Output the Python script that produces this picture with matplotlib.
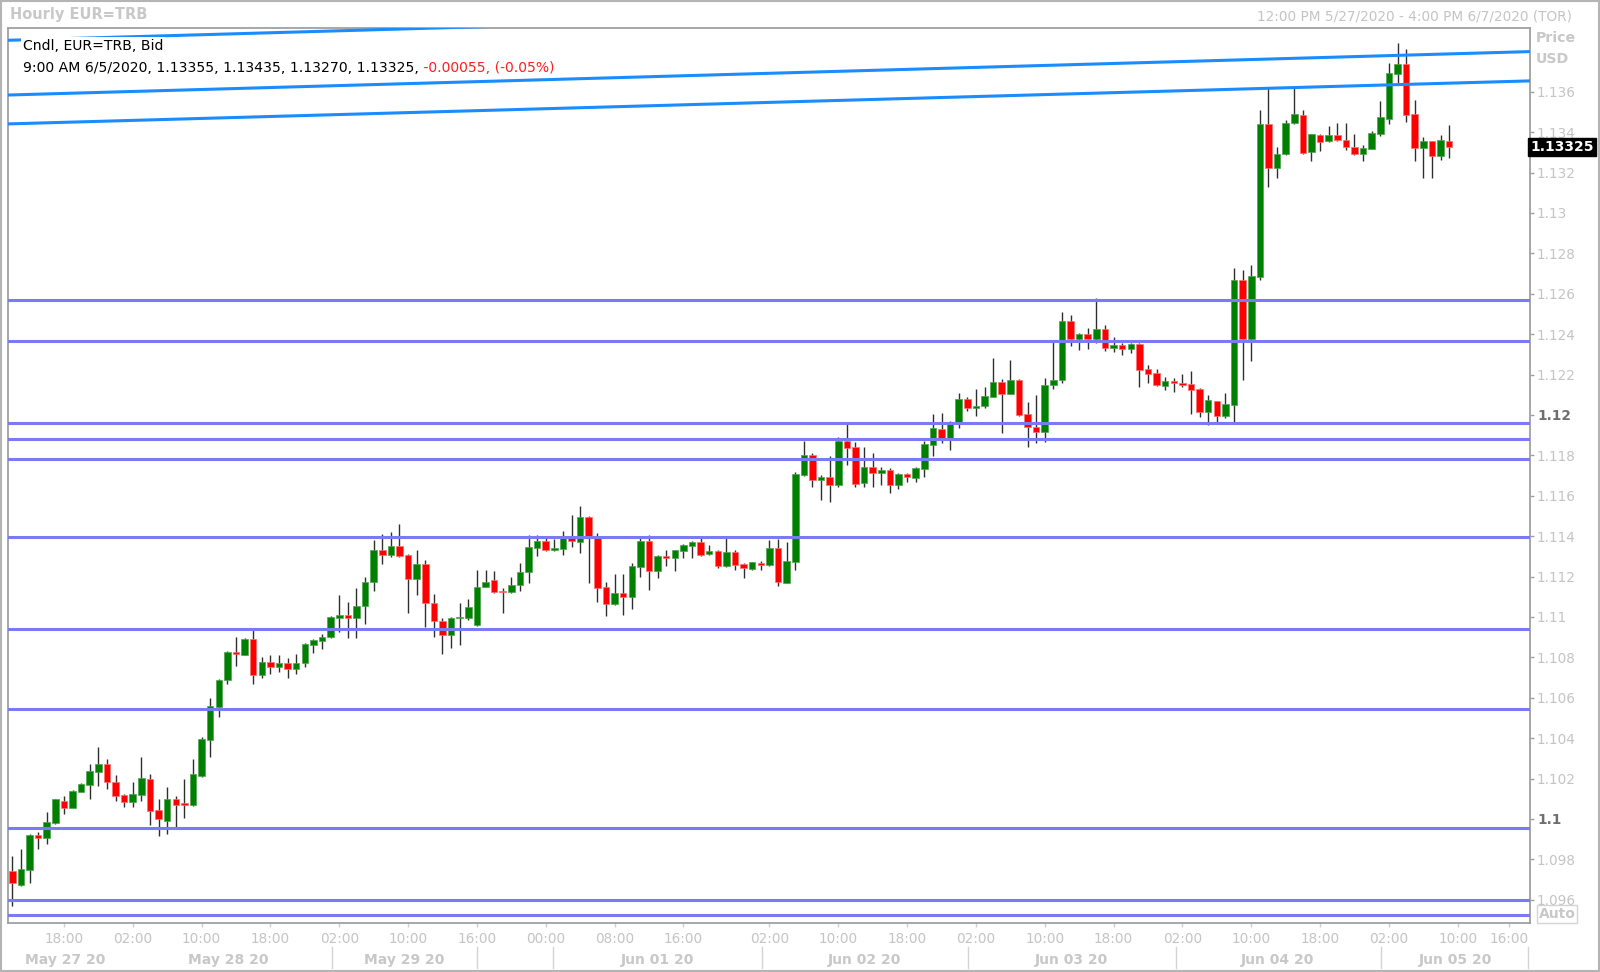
import numpy as np
import matplotlib.pyplot as plt
from matplotlib.transforms import blended_transform_factory
from matplotlib.patches import Rectangle

# hourly EUR=TRB candles, 12:00 May 27 -> 09:00 Jun 05 (one slot per bar)
opens = [1.09743, 1.09675, 1.09748, 1.09921, 1.09905, 1.09979, 1.10091, 1.10055, 1.10136, 1.10169,
         1.10235, 1.10273, 1.10185, 1.10119, 1.10083, 1.10121, 1.10198, 1.10045, 1.09992, 1.10101,
         1.10078, 1.10070, 1.10215, 1.10393, 1.10555, 1.10687, 1.10827, 1.10814, 1.10891, 1.10715,
         1.10777, 1.10750, 1.10770, 1.10745, 1.10770, 1.10861, 1.10883, 1.10899, 1.10997, 1.11010,
         1.10997, 1.11055, 1.11172, 1.11332, 1.11307, 1.11353, 1.11307, 1.11190, 1.11261, 1.11071,
         1.10982, 1.10911, 1.10993, 1.10997, 1.10962, 1.11147, 1.11183, 1.11129, 1.11122, 1.11157,
         1.11221, 1.11340, 1.11378, 1.11332, 1.11337, 1.11389, 1.11373, 1.11497, 1.11389, 1.11147,
         1.11063, 1.11121, 1.11101, 1.11246, 1.11378, 1.11228, 1.11304, 1.11294, 1.11328, 1.11352,
         1.11373, 1.11310, 1.11327, 1.11253, 1.11320, 1.11261, 1.11238, 1.11269, 1.11258, 1.11340,
         1.11170, 1.11274, 1.11703, 1.11802, 1.11678, 1.11691, 1.11654, 1.11873, 1.11840, 1.11662,
         1.11744, 1.11711, 1.11728, 1.11654, 1.11708, 1.11686, 1.11733, 1.11852, 1.11929, 1.11888,
         1.11967, 1.12079, 1.12035, 1.12045, 1.12091, 1.12162, 1.12106, 1.12173, 1.12003, 1.11942,
         1.11918, 1.12149, 1.12173, 1.12467, 1.12375, 1.12401, 1.12378, 1.12424, 1.12333, 1.12347,
         1.12327, 1.12352, 1.12226, 1.12206, 1.12144, 1.12168, 1.12157, 1.12152, 1.12127, 1.12017,
         1.12069, 1.11997, 1.12050, 1.12668, 1.12378, 1.12685, 1.13441, 1.13221, 1.13292, 1.13444,
         1.13484, 1.13304, 1.13385, 1.13356, 1.13385, 1.13361, 1.13328, 1.13292, 1.13317, 1.13391,
         1.13465, 1.13688, 1.13738, 1.13488, 1.13320, 1.13356, 1.13282, 1.13355]
highs = [1.09819, 1.09852, 1.09925, 1.09934, 1.10037, 1.10100, 1.10114, 1.10142, 1.10177, 1.10271,
         1.10357, 1.10299, 1.10218, 1.10122, 1.10185, 1.10309, 1.10223, 1.10098, 1.10157, 1.10114,
         1.10198, 1.10299, 1.10408, 1.10601, 1.10695, 1.10832, 1.10903, 1.10898, 1.10938, 1.10803,
         1.10812, 1.10812, 1.10799, 1.10817, 1.10870, 1.10889, 1.10914, 1.11005, 1.11109, 1.11076,
         1.11142, 1.11200, 1.11381, 1.11411, 1.11419, 1.11459, 1.11312, 1.11332, 1.11282, 1.11114,
         1.10994, 1.11002, 1.11071, 1.11088, 1.11233, 1.11233, 1.11228, 1.11145, 1.11200, 1.11266,
         1.11406, 1.11406, 1.11389, 1.11385, 1.11426, 1.11505, 1.11550, 1.11500, 1.11414, 1.11172,
         1.11213, 1.11213, 1.11266, 1.11390, 1.11406, 1.11306, 1.11332, 1.11334, 1.11361, 1.11378,
         1.11389, 1.11357, 1.11332, 1.11389, 1.11332, 1.11266, 1.11274, 1.11279, 1.11381, 1.11385,
         1.11373, 1.11720, 1.11871, 1.11814, 1.11703, 1.11797, 1.11890, 1.11956, 1.11868, 1.11840,
         1.11814, 1.11744, 1.11736, 1.11715, 1.11715, 1.11744, 1.11871, 1.12005, 1.12008, 1.11972,
         1.12107, 1.12091, 1.12127, 1.12140, 1.12281, 1.12178, 1.12272, 1.12178, 1.12063, 1.12099,
         1.12182, 1.12363, 1.12508, 1.12495, 1.12404, 1.12429, 1.12578, 1.12446, 1.12385, 1.12358,
         1.12358, 1.12355, 1.12248, 1.12226, 1.12190, 1.12185, 1.12203, 1.12218, 1.12132, 1.12099,
         1.12071, 1.12107, 1.12726, 1.12718, 1.12743, 1.13510, 1.13617, 1.13325, 1.13460, 1.13617,
         1.13510, 1.13392, 1.13390, 1.13432, 1.13447, 1.13447, 1.13390, 1.13337, 1.13408, 1.13556,
         1.13744, 1.13840, 1.13810, 1.13559, 1.13375, 1.13356, 1.13386, 1.13435]
lows = [1.09570, 1.09670, 1.09685, 1.09852, 1.09877, 1.09975, 1.10023, 1.10052, 1.10132, 1.10098,
        1.10164, 1.10149, 1.10091, 1.10060, 1.10060, 1.10091, 1.09971, 1.09918, 1.09925, 1.09962,
        1.10004, 1.10066, 1.10210, 1.10309, 1.10504, 1.10667, 1.10758, 1.10810, 1.10667, 1.10700,
        1.10720, 1.10730, 1.10700, 1.10720, 1.10750, 1.10823, 1.10840, 1.10895, 1.10927, 1.10898,
        1.10898, 1.10964, 1.11129, 1.11261, 1.11295, 1.11299, 1.11018, 1.11109, 1.10952, 1.10899,
        1.10815, 1.10845, 1.10861, 1.10985, 1.10957, 1.11147, 1.11117, 1.11021, 1.11117, 1.11129,
        1.11167, 1.11304, 1.11328, 1.11327, 1.11307, 1.11348, 1.11319, 1.11167, 1.11076, 1.11007,
        1.11060, 1.11010, 1.11040, 1.11196, 1.11134, 1.11192, 1.11253, 1.11228, 1.11294, 1.11294,
        1.11304, 1.11307, 1.11241, 1.11249, 1.11233, 1.11192, 1.11233, 1.11233, 1.11254, 1.11154,
        1.11167, 1.11233, 1.11700, 1.11642, 1.11579, 1.11571, 1.11642, 1.11753, 1.11642, 1.11642,
        1.11642, 1.11654, 1.11612, 1.11632, 1.11670, 1.11670, 1.11691, 1.11799, 1.11860, 1.11827,
        1.11934, 1.12021, 1.11995, 1.12033, 1.12091, 1.11913, 1.12102, 1.11995, 1.11843, 1.11860,
        1.11868, 1.12127, 1.12160, 1.12342, 1.12322, 1.12325, 1.12355, 1.12319, 1.12314, 1.12297,
        1.12309, 1.12137, 1.12160, 1.12144, 1.12124, 1.12116, 1.12140, 1.12003, 1.11989, 1.11951,
        1.11967, 1.11984, 1.11967, 1.12173, 1.12267, 1.12670, 1.13127, 1.13175, 1.13287, 1.13441,
        1.13292, 1.13259, 1.13307, 1.13353, 1.13356, 1.13312, 1.13287, 1.13259, 1.13315, 1.13381,
        1.13439, 1.13642, 1.13452, 1.13259, 1.13172, 1.13172, 1.13262, 1.13270]
closes = [1.09682, 1.09751, 1.09921, 1.09905, 1.09984, 1.10098, 1.10056, 1.10139, 1.10172, 1.10238,
          1.10273, 1.10182, 1.10116, 1.10083, 1.10124, 1.10205, 1.10042, 1.09999, 1.10101, 1.10070,
          1.10070, 1.10225, 1.10398, 1.10558, 1.10690, 1.10829, 1.10816, 1.10891, 1.10715, 1.10777,
          1.10750, 1.10770, 1.10745, 1.10770, 1.10865, 1.10886, 1.10903, 1.11002, 1.11010, 1.10997,
          1.11056, 1.11175, 1.11332, 1.11309, 1.11353, 1.11304, 1.11190, 1.11261, 1.11068, 1.10979,
          1.10911, 1.10997, 1.11002, 1.11048, 1.11150, 1.11175, 1.11124, 1.11126, 1.11159, 1.11221,
          1.11345, 1.11378, 1.11332, 1.11340, 1.11389, 1.11376, 1.11497, 1.11401, 1.11142, 1.11063,
          1.11121, 1.11098, 1.11253, 1.11378, 1.11228, 1.11304, 1.11294, 1.11332, 1.11357, 1.11373,
          1.11307, 1.11327, 1.11253, 1.11320, 1.11258, 1.11244, 1.11271, 1.11258, 1.11340, 1.11175,
          1.11279, 1.11708, 1.11802, 1.11678, 1.11691, 1.11654, 1.11873, 1.11835, 1.11658, 1.11744,
          1.11711, 1.11728, 1.11654, 1.11708, 1.11691, 1.11736, 1.11855, 1.11934, 1.11888, 1.11959,
          1.12079, 1.12033, 1.12046, 1.12094, 1.12162, 1.12106, 1.12173, 1.12000, 1.11942, 1.11918,
          1.12149, 1.12173, 1.12465, 1.12375, 1.12401, 1.12378, 1.12424, 1.12333, 1.12347, 1.12327,
          1.12352, 1.12223, 1.12203, 1.12149, 1.12168, 1.12157, 1.12147, 1.12124, 1.12017, 1.12074,
          1.11997, 1.12053, 1.12668, 1.12378, 1.12688, 1.13441, 1.13221, 1.13292, 1.13447, 1.13488,
          1.13295, 1.13390, 1.13353, 1.13385, 1.13361, 1.13325, 1.13292, 1.13320, 1.13394, 1.13474,
          1.13691, 1.13738, 1.13485, 1.13320, 1.13356, 1.13282, 1.13361, 1.13325]

# horizontal support / resistance levels
levels = [1.12569, 1.12366, 1.11959, 1.11881, 1.11782, 1.11395,
          1.10941, 1.10543, 1.09954, 1.09599, 1.09525]

# sloped trend lines: (bar start, price start, bar end, price end)
trend_lines = [(-0.5, 1.13855, 176.4, 1.14071),
               (-0.5, 1.13584, 176.4, 1.13799),
               (-0.5, 1.13441, 176.4, 1.13654)]

time_tick_pos = [6, 14, 22, 30, 38, 46, 54, 62, 70, 78, 88, 96, 104, 112, 120, 128,
                 136, 144, 152, 160, 168, 174]
time_tick_labels = ['18:00', '02:00', '10:00', '18:00', '02:00', '10:00', '16:00', '00:00',
                    '08:00', '16:00', '02:00', '10:00', '18:00', '02:00', '10:00', '18:00',
                    '02:00', '10:00', '18:00', '02:00', '10:00', '16:00']
day_labels = ['May 27 20', 'May 28 20', 'May 29 20', 'Jun 01 20', 'Jun 02 20',
              'Jun 03 20', 'Jun 04 20', 'Jun 05 20']
day_label_pos = [6.2, 25.1, 45.6, 75.0, 99.1, 123.1, 147.1, 167.7]
day_separators = [37.2, 54.0, 62.9, 87.1, 111.1, 135.2, 159.1, 176.2]

price_ticks = np.arange(1.096, 1.1361, 0.002)
last_price = 1.13325

W, H = 1600, 972
fig = plt.figure(figsize=(W / 100, H / 100), dpi=100)
fig.patch.set_facecolor('white')
ax = fig.add_axes([8 / W, 1 - 923 / H, 1522 / W, 895 / H])

x = np.arange(len(opens))
o = np.array(opens)
hi = np.array(highs)
lo = np.array(lows)
c = np.array(closes)
up = c >= o
body_col = np.where(up, '#008000', '#ff0000')
edge_col = np.where(up, '#4fa34f', '#ff7070')
body_h = np.maximum(np.abs(c - o), 0.00007)
body_b = np.minimum(o, c) - (body_h - np.abs(c - o)) / 2

ax.vlines(x, lo, hi, color='#2e2e2e', lw=1.0, zorder=2)
ax.bar(x, body_h, bottom=body_b, width=0.76, color=body_col, edgecolor=edge_col,
       linewidth=0.5, zorder=3)

for lv in levels:
    ax.axhline(lv, color='#7a7af4', lw=2.2, zorder=4)
for x0, p0, x1, p1 in trend_lines:
    ax.plot([x0, x1], [p0, p1], color='#1a8cff', lw=2.2, zorder=4, solid_capstyle='butt')

ax.set_xlim(-0.5, 176.4)
ax.set_ylim(1.094851, 1.139158)
for s in ax.spines.values():
    s.set_color('#a0a0a0')
    s.set_linewidth(1.3)

# right price axis
ax.yaxis.tick_right()
ylabels = [('%.3f' % v).rstrip('0').rstrip('.') for v in price_ticks]
ax.set_yticks(price_ticks, labels=ylabels)
ax.tick_params(axis='y', direction='out', length=3, width=1, color='#a0a0a0',
               pad=2, labelsize=9.8, labelcolor='#c4c4c4')
for lab in ax.get_yticklabels():
    if lab.get_text() in ('1.1', '1.12'):
        lab.set_fontweight('bold')
        lab.set_color('#6e6e6e')

# time axis
ax.set_xticks(time_tick_pos, labels=time_tick_labels)
ax.tick_params(axis='x', direction='out', length=3, width=1, color='#d0d0d0',
               pad=3.5, labelsize=9.8, labelcolor='#c4c4c4')

tr = blended_transform_factory(ax.transData, fig.transFigure)
for pos, txt in zip(day_label_pos, day_labels):
    fig.text(pos, 1 - 960 / H, txt, transform=tr, ha='center', va='center',
             fontsize=10, fontweight='bold', color='#c8c8c8')
for sx in day_separators:
    ax.plot([sx, sx], [1 - 947 / H, 1 - 968 / H], transform=tr, color='#d4d4d4',
            lw=1, clip_on=False)

# header
fig.text(10 / W, 1 - 15 / H, 'Hourly EUR=TRB', fontsize=10.5, fontweight='bold',
         color='#c8c8c8', va='center')
fig.text(1572 / W, 1 - 16 / H, '12:00 PM 5/27/2020 - 4:00 PM 6/7/2020 (TOR)',
         ha='right', va='center', fontsize=9.8, color='#c4c4c4')

# legend text inside the chart
fig.text(23 / W, 1 - 46.5 / H, 'Cndl, EUR=TRB, Bid', fontsize=10.1, color='black',
         va='center', zorder=6,
         bbox=dict(facecolor='white', edgecolor='none', boxstyle='square,pad=0.15'))
t2 = fig.text(23 / W, 1 - 67.5 / H, '9:00 AM 6/5/2020, 1.13355, 1.13435, 1.13270, 1.13325,',
              fontsize=10.1, color='black', va='center', zorder=6)
ax.annotate(' -0.00055, (-0.05%)', xy=(1, 0), xycoords=t2, va='bottom', ha='left',
            fontsize=10.1, color='#ff2020', annotation_clip=False, zorder=6)

# right side labels
fig.text(1536 / W, 1 - 38 / H, 'Price', fontsize=10.2, fontweight='bold', color='#c8c8c8',
         va='center')
fig.text(1536 / W, 1 - 59 / H, 'USD', fontsize=10.2, fontweight='bold', color='#c8c8c8',
         va='center')
trp = blended_transform_factory(ax.transAxes, ax.transData)
ax.text(1.0, last_price, '1.13325', transform=trp, ha='left', va='center', fontsize=10,
        fontweight='bold', color='white', zorder=10, clip_on=False,
        bbox=dict(facecolor='black', edgecolor='black', boxstyle='square,pad=0.15'))
fig.text(1557 / W, 1 - 914 / H, 'Auto', ha='center', va='center', fontsize=10,
         fontweight='bold', color='#c8c8c8',
         bbox=dict(facecolor='white', edgecolor='#d4d4d4', boxstyle='square,pad=0.12'))

# outer frame
fig.add_artist(Rectangle((0.0008, 0.0008), 0.9984, 0.9984, transform=fig.transFigure,
                         fill=False, edgecolor='#b4b4b4', lw=1.5))

fig.savefig('out.png', dpi=100)
